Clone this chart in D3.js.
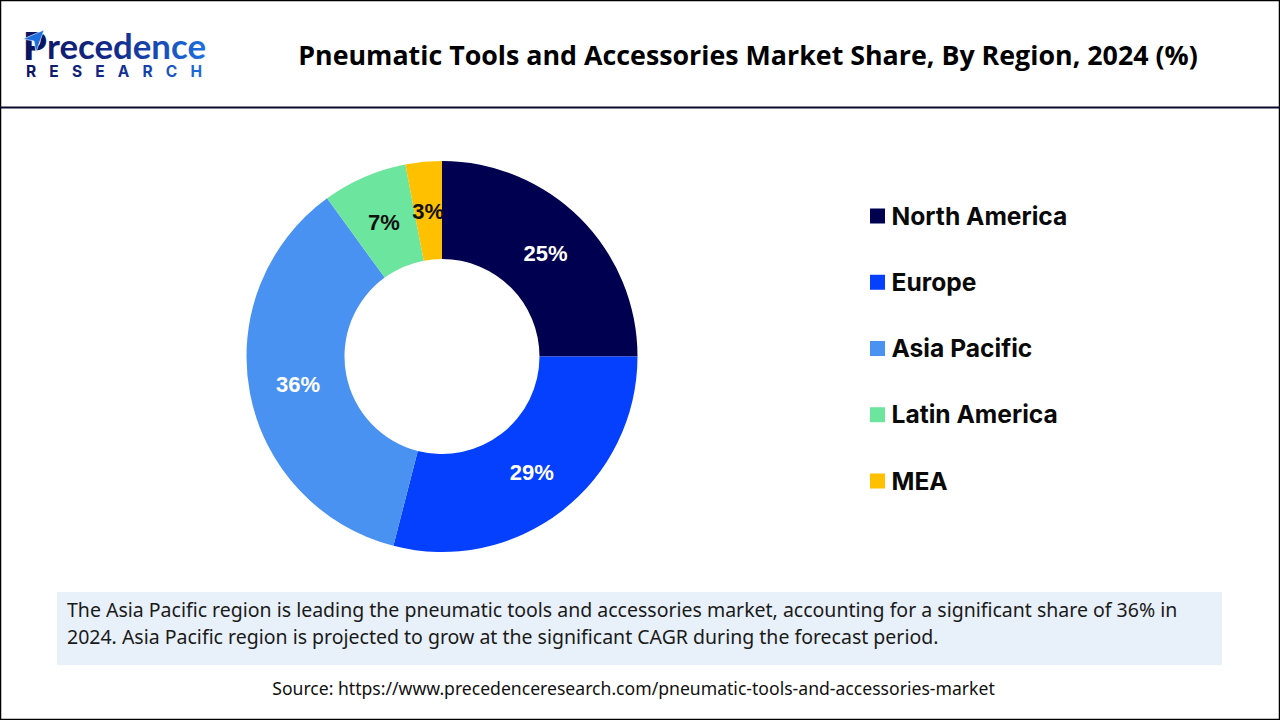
<!DOCTYPE html>
<html>
<head>
<meta charset="utf-8">
<script src="https://cdn.jsdelivr.net/npm/d3@7"></script>
<style>
  html, body { margin: 0; padding: 0; background: #fff; }
  svg { display: block; }
</style>
</head>
<body>
<div id="chart"></div>
<script>
const regions = ['North America', 'Europe', 'Asia Pacific', 'Latin America', 'MEA']
const shares = [25, 29, 36, 7, 3]
const colors = ['#000050', '#0540FF', '#4992F2', '#6CE59E', '#FFC000']
const labelColors = ['#fff', '#fff', '#fff', '#111', '#111']
const titleText = 'Pneumatic Tools and Accessories Market Share, By Region, 2024 (%)'
const noteLines = [
  'The Asia Pacific region is leading the pneumatic tools and accessories market, accounting for a significant share of 36% in',
  '2024. Asia Pacific region is projected to grow at the significant CAGR during the forecast period.'
]
const sourceText = 'Source: https://www.precedenceresearch.com/pneumatic-tools-and-accessories-market'

const width = 1280
const height = 720
const svg = d3.select('#chart').append('svg')
  .attr('width', width)
  .attr('height', height)

// frame and header rule
svg.append('rect')
  .attr('x', 0.5).attr('y', 0.5)
  .attr('width', width - 1).attr('height', height - 1)
  .attr('fill', 'none').attr('stroke', '#000').attr('stroke-width', 1.5)
svg.append('line')
  .attr('x1', 0).attr('x2', width)
  .attr('y1', 107.5).attr('y2', 107.5)
  .attr('stroke', '#0a0a28').attr('stroke-width', 2)

// logo
const defs = svg.append('defs')
const grad = defs.append('linearGradient').attr('id', 'logoGrad')
  .attr('gradientUnits', 'userSpaceOnUse')
  .attr('x1', 25).attr('x2', 205).attr('y1', 0).attr('y2', 0)
grad.append('stop').attr('offset', '0%').attr('stop-color', '#0a1560')
grad.append('stop').attr('offset', '50%').attr('stop-color', '#142a8c')
grad.append('stop').attr('offset', '100%').attr('stop-color', '#1d6fe0')

const logo = svg.append('g')
logo.append('text')
  .attr('x', 23).attr('y', 60)
  .attr('font-family', 'Lato').attr('font-weight', 900).attr('font-size', 38)
  .attr('fill', '#0a1560').text('P')
logo.append('path')
  .attr('d', 'M23 39 L44 30 L36 52 L34 41 Z')
  .attr('fill', '#1d6fe0').attr('stroke', '#fff').attr('stroke-width', 0.6)
logo.append('text')
  .attr('x', 47).attr('y', 59)
  .attr('font-family', 'Lato').attr('font-weight', 700).attr('font-size', 34)
  .attr('textLength', 159).attr('lengthAdjust', 'spacingAndGlyphs')
  .attr('fill', 'url(#logoGrad)').text('recedence')
logo.append('text')
  .attr('x', 26).attr('y', 77)
  .attr('font-family', 'Inter').attr('font-weight', 700).attr('font-size', 15.5)
  .attr('textLength', 176).attr('fill', 'url(#logoGrad)').text('RESEARCH')

svg.append('text')
  .attr('x', 748).attr('y', 65)
  .attr('text-anchor', 'middle')
  .attr('font-family', 'Open Sans').attr('font-weight', 700).attr('font-size', 26.8)
  .attr('fill', '#000').text(titleText)

// donut
const center = [442, 356.5]
const outerR = 195.5
const innerR = 97.5
const pie = d3.pie().sort(null).value(d => d)
const arc = d3.arc().innerRadius(innerR).outerRadius(outerR)
const donut = svg.append('g').attr('transform', `translate(${center})`)
const slices = pie(shares)

donut.selectAll('path')
  .data(slices)
  .enter()
  .append('path')
  .attr('d', arc)
  .attr('fill', (d, i) => colors[i])

donut.selectAll('text')
  .data(slices)
  .enter()
  .append('text')
  .attr('transform', d => `translate(${arc.centroid(d)})`)
  .attr('text-anchor', 'middle')
  .attr('dy', '0.36em')
  .attr('font-family', 'Liberation Sans').attr('font-weight', 700).attr('font-size', 22)
  .attr('fill', (d, i) => labelColors[i])
  .text(d => d.data + '%')

// legend
const legendY = d3.scalePoint().domain(regions).range([216, 481])
const legend = svg.selectAll('.legend')
  .data(regions)
  .enter()
  .append('g')
  .attr('class', 'legend')
  .attr('transform', d => `translate(870,${legendY(d)})`)
legend.append('rect')
  .attr('x', 0).attr('y', -7.5)
  .attr('width', 15).attr('height', 15)
  .attr('fill', (d, i) => colors[i])
legend.append('text')
  .attr('x', 21.5).attr('y', 8.5)
  .attr('font-family', 'Inter').attr('font-weight', 700).attr('font-size', 24.6)
  .attr('fill', '#0a0a0a')
  .text(d => d)

// note box
svg.append('rect')
  .attr('x', 57).attr('y', 592)
  .attr('width', 1165).attr('height', 73)
  .attr('fill', '#E8F0F9')
svg.selectAll('.note')
  .data(noteLines)
  .enter()
  .append('text')
  .attr('class', 'note')
  .attr('x', 67)
  .attr('y', (d, i) => 617 + i * 27)
  .attr('font-family', 'Noto Sans').attr('font-size', 19.5)
  .attr('fill', '#1a1a1a')
  .text(d => d)

svg.append('text')
  .attr('x', 633.5).attr('y', 695)
  .attr('text-anchor', 'middle')
  .attr('font-family', 'Noto Sans').attr('font-size', 17.6)
  .attr('fill', '#111')
  .text(sourceText)
</script>
</body>
</html>
